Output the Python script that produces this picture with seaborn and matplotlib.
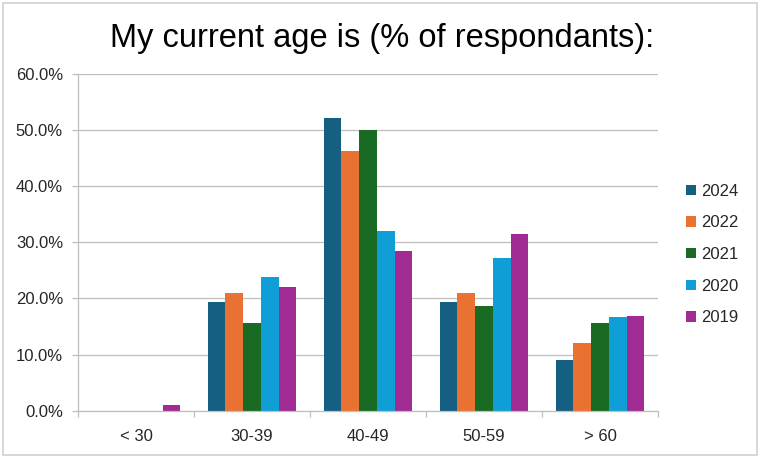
import matplotlib
matplotlib.use("Agg")
import matplotlib.pyplot as plt
import seaborn as sns
import pandas as pd
import numpy as np
from matplotlib.patches import Rectangle
from matplotlib.ticker import PercentFormatter, FixedLocator

categories = ["< 30", "30-39", "40-49", "50-59", "> 60"]
years = ["2024", "2022", "2021", "2020", "2019"]
v2024 = [0.0, 19.4, 52.2, 19.4, 9.0]
v2022 = [0.0, 20.9, 46.3, 20.9, 12.0]
v2021 = [0.0, 15.7, 50.0, 18.6, 15.7]
v2020 = [0.0, 23.9, 32.1, 27.3, 16.7]
v2019 = [1.0, 22.1, 28.4, 31.5, 16.9]
colors = ["#156082", "#E97132", "#196B24", "#0F9ED5", "#A02B93"]

series = [v2024, v2022, v2021, v2020, v2019]
rows = []
for y, vals in zip(years, series):
    for c, v in zip(categories, vals):
        rows.append({"age": c, "year": y, "pct": v})
df = pd.DataFrame(rows)

sns.set_theme(style="white")
plt.rcParams["font.family"] = ["Liberation Sans", "DejaVu Sans"]

fig = plt.figure(figsize=(7.6, 4.58), dpi=100)
ax = fig.add_axes([78/760, 1-410.7/458, 580/760, (410.7-74)/458])

sns.barplot(data=df, x="age", y="pct", hue="year", order=categories,
            hue_order=years, palette=colors, width=0.767, saturation=1,
            linewidth=0, ax=ax, legend=True)

ax.set_ylim(0, 60)
ax.set_xlim(-0.5, 4.5)
ax.yaxis.set_major_locator(FixedLocator(np.arange(0, 61, 10)))
ax.yaxis.set_major_formatter(PercentFormatter(decimals=1))
ax.grid(axis="y", color="#BFBFBF", linewidth=0.9)
ax.set_axisbelow(True)
ax.set_xlabel("")
ax.set_ylabel("")
for s in ["top", "right"]:
    ax.spines[s].set_visible(False)
for s in ["left", "bottom"]:
    ax.spines[s].set_color("#BFBFBF")
    ax.spines[s].set_linewidth(0.9)

ax.tick_params(axis="y", which="major", length=4.3, color="#BFBFBF", width=0.9,
               labelsize=12, labelcolor="#262626", pad=6.5, left=True)
ax.tick_params(axis="x", which="major", length=0, labelsize=12,
               labelcolor="#262626", pad=13)
ax.xaxis.set_minor_locator(FixedLocator(np.arange(-0.5, 4.6, 1.0)))
ax.tick_params(axis="x", which="minor", length=4.5, color="#BFBFBF",
               width=0.9, bottom=True)

handles, labels = ax.get_legend_handles_labels()
ax.get_legend().remove()
leg = fig.legend(handles, labels, loc="center left",
                 bbox_to_anchor=(679/760, 1-254.5/458), frameon=False,
                 fontsize=12, handlelength=0.6, handleheight=0.6,
                 handletextpad=0.3, labelspacing=1.0, borderaxespad=0)
for t in leg.get_texts():
    t.set_color("#262626")

fig.text(382/760, 1-39/458, "My current age is (% of respondants):",
         ha="center", va="center", fontsize=23.5, color="#000000")

fig.patches.append(Rectangle((3/760, 3/458), 754/760, 452/458,
                             transform=fig.transFigure, fill=False,
                             edgecolor="#D0D0D0", linewidth=1.2))

fig.savefig("out.png", dpi=100)
